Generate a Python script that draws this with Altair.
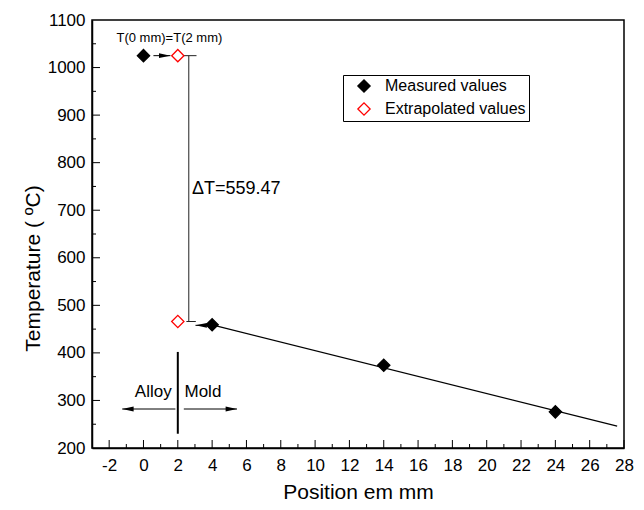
import altair as alt
import pandas as pd

# ---------------- data ----------------
series_names = ["Measured values", "Extrapolated values"]
meas_x = [0, 4, 14, 24]
meas_y = [1025, 459, 374, 276]
extra_x = [2, 2]
extra_y = [1025, 466]

fit_x = [4, 27.6]
fit_y = [459, 246]

# bracket for delta T (x, x2, y, y2)
thin_x = [2.64, 2.25, 2.5]
thin_x2 = [2.64, 3.09, 3.05]
thin_y = [1025, 1025, 466]
thin_y2 = [466, 1025, 466]

divider_x = [2]
divider_y = [230]
divider_y2 = [402]

# arrows: start x, tip x, y, angle of head (0 right, 180 left)
arrow_x = [0.58, 3.62, 1.86, 2.35]
arrow_tip = [1.57, 3.03, -1.24, 5.45]
arrow_y = [1025, 458, 282, 282]
arrow_angle = [0, 180, 180, 0]

# annotations
note_text = ["T(0 mm)=T(2 mm)"]
note_x = [1.51]
note_y = [1062]
dt_text = ["\u0394T=559.47"]
dt_x = [2.83]
dt_y = [744]
alloy_text = ["Alloy"]
alloy_x = [0.57]
mold_text = ["Mold"]
mold_x = [2.39]
am_y = [318]

x_major = list(range(-2, 29, 2))
x_minor = list(range(-1, 28, 2))
y_labels = list(range(200, 1101, 100))
y_major = list(range(300, 1100, 100))
y_minor = list(range(250, 1100, 100))

W, H = 532, 428
FONT = "Liberation Sans"

xs = alt.Scale(domain=[-3, 28], nice=False, zero=False)
ys = alt.Scale(domain=[200, 1100], nice=False, zero=False)
xaxis = alt.Axis(values=x_major, title="Position em mm", labelPadding=9, titlePadding=8,
                 labelFlush=False, labelExpr="'' + datum.value")
yaxis = alt.Axis(values=y_labels, title="Temperature ( \u00baC)",
                 labelPadding=7, titleX=-59, titleY=248, titleBaseline="middle",
                 labelFlush=False, labelExpr="'' + datum.value")


def X(f):
    return alt.X(f, type="quantitative", scale=xs, axis=xaxis)


def Y(f):
    return alt.Y(f, type="quantitative", scale=ys, axis=yaxis)


# ---------------- layers ----------------
fit_df = pd.DataFrame({"x": fit_x, "y": fit_y})
fit = alt.Chart(fit_df).mark_line(color="black", strokeWidth=1.2).encode(x=X("x"), y=Y("y"))

thin_df = pd.DataFrame({"x": thin_x, "x2": thin_x2, "y": thin_y, "y2": thin_y2})
thin = alt.Chart(thin_df).mark_rule(color="#222", strokeWidth=1).encode(
    x=X("x"), x2="x2", y=Y("y"), y2="y2")

div_df = pd.DataFrame({"x": divider_x, "y": divider_y, "y2": divider_y2})
div = alt.Chart(div_df).mark_rule(color="black", strokeWidth=2).encode(
    x=X("x"), y=Y("y"), y2="y2")

arr_df = pd.DataFrame({"x": arrow_x, "tip": arrow_tip, "y": arrow_y, "angle": arrow_angle})
shafts = alt.Chart(arr_df).mark_rule(color="black", strokeWidth=1).encode(
    x=X("x"), x2="tip", y=Y("y"))
heads = alt.Chart(arr_df).mark_point(
    shape="M0,0L-2,-0.42L-2,0.42Z", filled=True, color="black", size=130, opacity=1
).encode(x=X("tip"), y=Y("y"), angle=alt.Angle("angle:Q", scale=None))

legend = alt.Legend(title=None, orient="none", legendX=251, legendY=55, symbolType="diamond",
                    symbolSize=150, symbolStrokeWidth=1.3, labelFont=FONT, labelFontSize=16,
                    labelColor="black", padding=3, symbolOffset=10, labelOffset=13,
                    rowPadding=5, strokeColor="black", fillColor="white")
pts = pd.DataFrame({"x": meas_x + extra_x, "y": meas_y + extra_y,
                    "series": [series_names[0]] * len(meas_x) + [series_names[1]] * len(extra_x)})
points = alt.Chart(pts).mark_point(filled=True, shape="diamond", size=150, strokeWidth=1.3,
                                   opacity=1).encode(
    x=X("x"), y=Y("y"),
    fill=alt.Fill("series:N", scale=alt.Scale(domain=series_names, range=["black", "white"]),
                  legend=legend),
    stroke=alt.Stroke("series:N", scale=alt.Scale(domain=series_names, range=["black", "red"]),
                      legend=legend),
)

note = alt.Chart(pd.DataFrame({"t": note_text, "x": note_x, "y": note_y})).mark_text(
    font=FONT, fontSize=13, color="black", align="center", baseline="middle").encode(
    x=X("x"), y=Y("y"), text="t:N")
dt = alt.Chart(pd.DataFrame({"t": dt_text, "x": dt_x, "y": dt_y})).mark_text(
    font=FONT, fontSize=18, color="black", align="left", baseline="middle").encode(
    x=X("x"), y=Y("y"), text="t:N")
alloy = alt.Chart(pd.DataFrame({"t": alloy_text, "x": alloy_x, "y": am_y})).mark_text(
    font=FONT, fontSize=17, color="black", align="center", baseline="middle").encode(
    x=X("x"), y=Y("y"), text="t:N")
mold = alt.Chart(pd.DataFrame({"t": mold_text, "x": mold_x, "y": am_y})).mark_text(
    font=FONT, fontSize=17, color="black", align="left", baseline="middle").encode(
    x=X("x"), y=Y("y"), text="t:N")

# inward ticks
xt_major = alt.Chart(pd.DataFrame({"v": x_major})).mark_rule(color="black", strokeWidth=1).encode(
    x=X("v"), y=alt.value(H), y2=alt.value(H - 8))
xt_minor = alt.Chart(pd.DataFrame({"v": x_minor})).mark_rule(color="black", strokeWidth=1).encode(
    x=X("v"), y=alt.value(H), y2=alt.value(H - 4))
yt_major = alt.Chart(pd.DataFrame({"v": y_major})).mark_rule(color="black", strokeWidth=1).encode(
    y=Y("v"), x=alt.value(0), x2=alt.value(8))
yt_minor = alt.Chart(pd.DataFrame({"v": y_minor})).mark_rule(color="black", strokeWidth=1).encode(
    y=Y("v"), x=alt.value(0), x2=alt.value(4))

chart = alt.layer(
    fit, thin, div, shafts, heads, xt_major, xt_minor, yt_major, yt_minor,
    note, dt, alloy, mold, points
).properties(
    width=W, height=H,
    padding={"left": 92, "top": 20, "right": 20, "bottom": 62},
    autosize=alt.AutoSizeParams(type="none"),
    background="white",
).configure_view(
    stroke="black", strokeWidth=1.5
).configure_axis(
    grid=False, domainColor="black", domainWidth=1.5, ticks=False, tickSize=0,
    labelFont=FONT, labelFontSize=17, labelColor="black",
    titleFont=FONT, titleFontSize=21, titleFontWeight="normal", titleColor="black",
)

chart.save("out.html", embed_options={"renderer": "svg", "actions": False})
